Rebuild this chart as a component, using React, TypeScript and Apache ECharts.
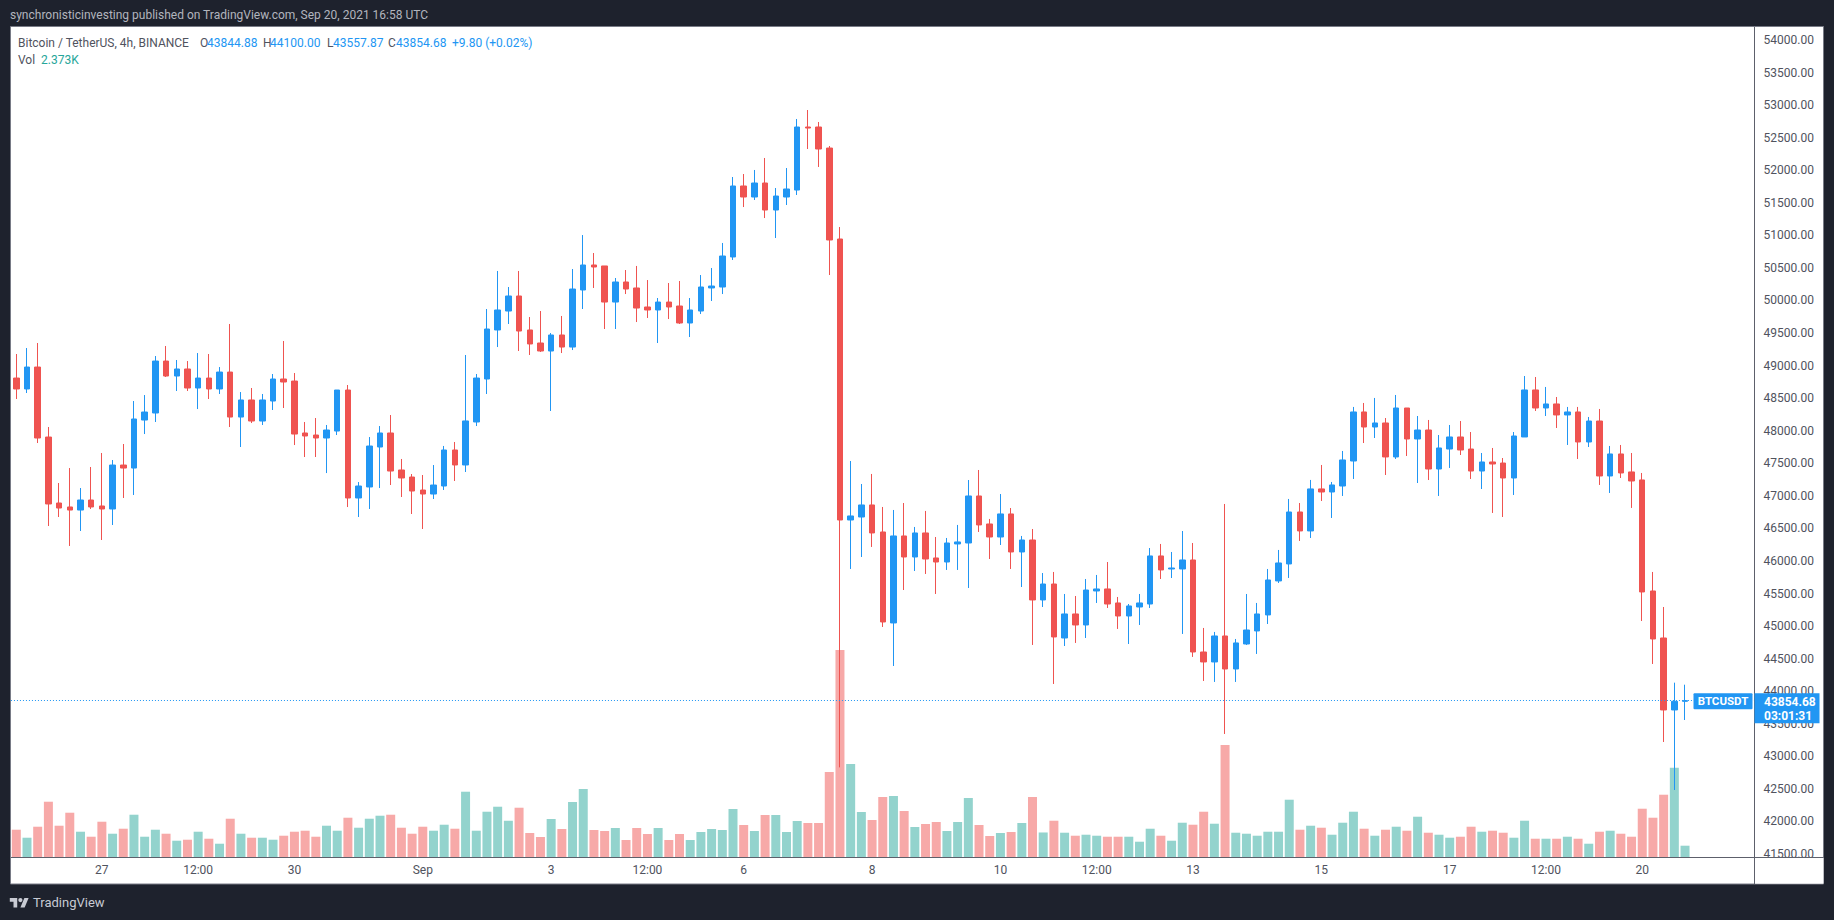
import React, { useEffect, useRef } from "react";
import * as echarts from "echarts";

// ---- Candle data (4h BTCUSDT, Aug 25 16:00 UTC .. Sep 20 16:00 UTC) ----
const opens = [
  48809, 48641, 48978, 47903, 46890, 46829, 46782, 46936, 46844, 46798,
  47473, 47427, 48164, 48272, 49070, 48840, 48948, 48656, 48809, 48641,
  48901, 48210, 48472, 48149, 48456, 48794, 48763, 47965, 47934, 47888,
  47995, 48625, 46967, 47136, 47750, 47965, 47397, 47289, 47089, 47028,
  47151, 47704, 47474, 48134, 48794, 49547, 49838, 50069, 49547, 49347,
  49224, 49470, 49285, 50161, 50545, 50530, 49976, 50284, 50192, 49900,
  49854, 49976, 49915, 49654, 49838, 50192, 50207, 50668, 51758, 51589,
  51804, 51389, 51589, 51696, 52664, 52664, 52341, 50944, 46629, 46675,
  46860, 46445, 45048, 46384, 46061, 46430, 46046, 45984, 46261, 46276,
  46998, 46568, 46368, 46722, 46138, 46322, 45401, 45646, 44817, 45186,
  45017, 45539, 45570, 45355, 45155, 45293, 45339, 46077, 45877, 45877,
  46015, 44602, 44449, 44848, 44341, 44725, 44925, 45171, 45693, 45954,
  46752, 46461, 47106, 47059, 47151, 47535, 48288, 48057, 48119, 47597,
  48349, 47873, 48011, 47412, 47719, 47904, 47719, 47381, 47520, 47504,
  47274, 47904, 48626, 48349, 48411, 48242, 48288, 47827, 48149, 47305,
  47643, 47367, 47244, 45539, 44817, 43712, 43844.88,
];
const closes = [
  48641, 48978, 47888, 46875, 46813, 46782, 46936, 46829, 46798, 47473,
  47427, 48180, 48287, 49070, 48840, 48948, 48656, 48809, 48641, 48901,
  48210, 48472, 48149, 48472, 48794, 48748, 47949, 47919, 47888, 48011,
  48625, 46967, 47151, 47765, 47965, 47381, 47274, 47074, 47028, 47166,
  47704, 47474, 48150, 48809, 49562, 49854, 50069, 49531, 49332, 49224,
  49470, 49285, 50176, 50545, 50514, 49976, 50284, 50176, 49884, 49854,
  49976, 49900, 49654, 49854, 50207, 50222, 50683, 51758, 51589, 51804,
  51389, 51604, 51712, 52664, 52648, 52326, 50929, 46629, 46691, 46860,
  46430, 45063, 46384, 46061, 46430, 46030, 45984, 46276, 46292, 46998,
  46553, 46368, 46722, 46138, 46322, 45401, 45646, 44833, 45186, 45017,
  45554, 45570, 45339, 45155, 45309, 45355, 46077, 45862, 45892, 46015,
  44602, 44449, 44848, 44341, 44741, 44940, 45186, 45708, 45969, 46752,
  46461, 47106, 47059, 47167, 47551, 48288, 48057, 48119, 47597, 48349,
  47873, 48011, 47412, 47735, 47904, 47704, 47381, 47520, 47489, 47274,
  47919, 48626, 48349, 48411, 48242, 48288, 47827, 48149, 47305, 47643,
  47351, 47228, 45524, 44802, 43712, 43844.88, 43854.68,
];
const lows = [
  48487, 48579, 47811, 46537, 46675, 46230, 46460, 46798, 46322, 46552,
  46967, 47013, 47949, 48134, 48825, 48610, 48610, 48333, 48487, 48564,
  48057, 47750, 48118, 48088, 48318, 48349, 47780, 47596, 47596, 47350,
  47934, 46828, 46675, 46798, 47120, 47166, 46982, 46721, 46491, 46951,
  47090, 47228, 47366, 48072, 48564, 49285, 49639, 49224, 49163, 49209,
  48303, 49193, 49239, 49869, 50192, 49562, 49562, 50099, 49669, 49731,
  49347, 49715, 49639, 49439, 49792, 49992, 50099, 50622, 51435, 51543,
  51266, 50959, 51466, 51620, 52326, 52050, 50391, 42830, 45877, 46061,
  46215, 44986, 44387, 45554, 45846, 45800, 45493, 45862, 45862, 45585,
  46445, 46030, 46245, 45877, 45600, 44710, 45293, 44111, 44694, 44741,
  44817, 45355, 45278, 44956, 44725, 45017, 45278, 45723, 45738, 44879,
  44526, 44157, 44142, 43343, 44142, 44710, 44572, 45032, 45662, 45739,
  46307, 46353, 46921, 46660, 46998, 47259, 47811, 47888, 47320, 47566,
  47612, 47197, 47243, 46998, 47428, 47627, 47259, 47105, 46737, 46675,
  47013, 47904, 48303, 48226, 48042, 47781, 47566, 47750, 47167, 47044,
  47274, 46814, 45078, 44418, 43220, 42483, 43557.87,
];
const highs = [
  49178, 49270, 49347, 48057, 47197, 47427, 47120, 47443, 47658, 47550,
  47796, 48456, 48548, 49147, 49301, 49086, 49070, 49193, 49178, 48978,
  49639, 48594, 48656, 48564, 48871, 49378, 48886, 48134, 48195, 48088,
  48625, 48702, 47212, 47903, 48072, 48241, 47566, 47335, 47320, 47473,
  47766, 47827, 49163, 48871, 49869, 50453, 50207, 50453, 49746, 49838,
  49500, 49762, 50483, 51005, 50729, 50530, 50345, 50468, 50530, 50314,
  50038, 50268, 50299, 50038, 50391, 50499, 50883, 51896, 51942, 52004,
  52188, 51727, 52034, 52787, 52925, 52741, 52372, 51128, 47535, 47182,
  47336, 46829, 46783, 46890, 46522, 46768, 46368, 46353, 46553, 47243,
  47397, 46645, 47028, 46813, 46384, 46491, 45815, 45831, 45493, 45462,
  45723, 45785, 45984, 45447, 45339, 45493, 46199, 46261, 46138, 46460,
  46276, 44971, 44910, 46875, 44802, 45493, 45355, 45877, 46169, 46952,
  46890, 47244, 47474, 47213, 47689, 48365, 48426, 48503, 48195, 48549,
  48349, 48226, 48165, 47934, 48088, 48149, 47980, 47658, 47735, 47581,
  47980, 48840, 48825, 48672, 48518, 48365, 48365, 48211, 48334, 47766,
  47781, 47658, 47351, 45831, 45293, 44131, 44100,
];
const volumes = [
  5730, 4050, 6360, 11610, 6570, 9300, 5310, 4260, 7410, 4890,
  5940, 8880, 4260, 5730, 4890, 3420, 3630, 5310, 3840, 2790,
  8040, 4890, 4050, 4050, 3630, 4470, 5310, 5520, 4260, 6570,
  5520, 8250, 6150, 8040, 8670, 8880, 6150, 4890, 6360, 5520,
  6780, 5940, 13710, 5520, 9510, 10560, 7620, 10350, 5040, 4200,
  7980, 5880, 11550, 14280, 5670, 5460, 6090, 3570, 6090, 4830,
  6090, 3570, 4830, 3570, 5250, 5880, 5670, 10080, 6720, 5460,
  8820, 8820, 5250, 7560, 7140, 7140, 17850, 43470, 19530, 9450,
  7770, 12600, 12810, 9660, 6300, 6930, 7350, 5460, 7350, 12390,
  6720, 4410, 5040, 5250, 7140, 12600, 5150, 7620, 5100, 4470,
  4680, 4470, 4260, 4260, 4260, 3210, 5940, 4470, 3420, 7200,
  6780, 9510, 6990, 23520, 5100, 4890, 4470, 5310, 5310, 12030,
  5730, 6570, 6150, 4680, 7200, 9510, 5940, 4470, 5730, 6360,
  5520, 8460, 5100, 4680, 4050, 4260, 6360, 5310, 5520, 5100,
  4050, 7620, 3840, 3840, 3840, 4260, 3840, 2790, 5310, 5520,
  4890, 4260, 10140, 8250, 13080, 18750, 2373,
];

// x-axis tick labels (category index -> text)
const tickIndex = [8, 17, 26, 38, 50, 59, 68, 80, 92, 101, 110, 122, 134, 143, 152];
const tickLabels = ["27", "12:00", "30", "Sep", "3", "12:00", "6", "8", "10", "12:00", "13", "15", "17", "12:00", "20"];

const PRICE_MIN = 41500;
const PRICE_MAX = 54000;
const PRICE_STEP = 500;
const VOL_MAX = 174300;
const COUNTDOWN = "03:01:31";
const SYMBOL = "BTCUSDT";

const START_UTC = Date.UTC(2021, 7, 25, 16, 0, 0);
const STEP_MS = 4 * 3600 * 1000;
const EXTRA_SLOTS = 6;

const FONT = "Roboto, 'Liberation Sans', Arial, sans-serif";
const UP = "#2196f3";
const DOWN = "#ef5350";
const UP_VOL = "#93d3cd";
const DOWN_VOL = "#f7a9a8";
const AXIS_TEXT = "#50535e";
const FRAME_BG = "#1e222d";

const TV_LOGO_PATH =
  "M14 22H7V11H0V4h14v18zM28 22h-8l7.5-18h8L28 22zM24 8a4 4 0 1 1-8 0a4 4 0 1 1 8 0z";
echarts.graphic.registerShape("tvlogo", echarts.graphic.extendPath(TV_LOGO_PATH, {}) as any);

export default function App() {
  const ref = useRef<HTMLDivElement>(null);

  useEffect(() => {
    const el = ref.current!;
    const chart = echarts.init(el, null, { renderer: "svg", width: 1834, height: 920 });

    const n = closes.length;
    const total = n + EXTRA_SLOTS;
    const band = 10.697;
    const gridLeft = 10.95;
    const gridWidth = total * band;

    const categories = Array.from({ length: total }, (_, i) =>
      new Date(START_UTC + i * STEP_MS).toISOString().slice(0, 16)
    );
    const candleData = closes.map((c, i) => [opens[i], c, lows[i], highs[i]]);
    const volData = volumes.map((v, i) => ({
      value: v,
      itemStyle: { color: closes[i] >= opens[i] ? UP_VOL : DOWN_VOL },
    }));

    const last = n - 1;
    const lastClose = closes[last];

    const option: any = {
      animation: false,
      backgroundColor: FRAME_BG,
      grid: [
        { left: gridLeft, top: 40, width: gridWidth, height: 814 },
        { left: gridLeft, top: 27, width: gridWidth, height: 830 },
      ],
      xAxis: [
        {
          type: "category",
          gridIndex: 0,
          data: categories,
          boundaryGap: true,
          axisLine: { show: false },
          axisTick: { show: false },
          axisLabel: { show: false },
          splitLine: { show: false },
        },
        {
          type: "category",
          gridIndex: 1,
          data: categories,
          boundaryGap: true,
          axisLine: { show: false },
          axisTick: { show: false },
          splitLine: { show: false },
          axisLabel: {
            show: true,
            interval: (idx: number) => tickIndex.indexOf(idx) >= 0,
            formatter: (_v: string, idx: number) => {
              const k = tickIndex.indexOf(idx);
              return k >= 0 ? tickLabels[k] : "";
            },
            color: AXIS_TEXT,
            fontSize: 12,
            fontFamily: FONT,
            margin: 7,
          },
        },
      ],
      yAxis: [
        {
          type: "value",
          gridIndex: 0,
          position: "right",
          min: PRICE_MIN,
          max: PRICE_MAX,
          interval: PRICE_STEP,
          axisLine: { show: false },
          axisTick: { show: false },
          splitLine: { show: false },
          axisLabel: {
            formatter: (v: number) => v.toFixed(2),
            color: AXIS_TEXT,
            fontSize: 12,
            fontFamily: FONT,
            margin: 9,
          },
        },
        { type: "value", gridIndex: 1, min: 0, max: VOL_MAX, show: false },
      ],
      series: [
        {
          type: "bar",
          xAxisIndex: 1,
          yAxisIndex: 1,
          data: volData,
          barWidth: 9,
          z: 1,
          silent: true,
        },
        {
          type: "candlestick",
          xAxisIndex: 0,
          yAxisIndex: 0,
          data: candleData,
          barWidth: 6,
          z: 3,
          silent: true,
          itemStyle: {
            color: UP,
            color0: DOWN,
            borderColor: UP,
            borderColor0: DOWN,
            borderWidth: 1,
          },
          markLine: {
            silent: true,
            symbol: ["none", "none"],
            label: { show: false },
            lineStyle: { color: UP, type: [1, 2], width: 1 },
            data: [{ yAxis: lastClose }],
          },
        },
      ],
    };

    chart.setOption(option);
    const py = chart.convertToPixel({ yAxisIndex: 0 }, lastClose) as number;

    const chg = closes[last] - closes[last - 1];
    const pct = (chg / closes[last - 1]) * 100;
    const sign = chg >= 0 ? "+" : "";
    const txt = (x: number, y: number, text: string, fill: string, extra: any = {}) => ({
      type: "text",
      x,
      y,
      z: 30,
      silent: true,
      style: {
        text,
        fill,
        fontSize: 12,
        fontFamily: FONT,
        align: "left",
        verticalAlign: "middle",
        ...extra,
      },
    });

    const graphics: any[] = [
      {
        type: "rect",
        z: -10,
        silent: true,
        shape: { x: 10.5, y: 26.5, width: 1813, height: 857.5 },
        style: { fill: "#ffffff", stroke: "#787b86", lineWidth: 1 },
      },
      {
        type: "rect",
        z: 4,
        silent: true,
        shape: { x: 1755, y: 858, width: 68.5, height: 25.5 },
        style: { fill: "#ffffff" },
      },
      {
        type: "line",
        z: 5,
        silent: true,
        shape: { x1: 1754.5, y1: 27, x2: 1754.5, y2: 884 },
        style: { stroke: "#5d606b", lineWidth: 1 },
      },
      {
        type: "line",
        z: 5,
        silent: true,
        shape: { x1: 11, y1: 857.5, x2: 1823.5, y2: 857.5 },
        style: { stroke: "#5d606b", lineWidth: 1 },
      },
      txt(10, 15, "synchronisticinvesting published on TradingView.com, Sep 20, 2021 16:58 UTC", "#b2b5be", { fontSize: 12 }),
      txt(18, 43, "Bitcoin / TetherUS, 4h, BINANCE", AXIS_TEXT),
      txt(200, 43, "O", AXIS_TEXT),
      txt(207, 43, opens[last].toFixed(2), UP),
      txt(263, 43, "H", AXIS_TEXT),
      txt(270, 43, highs[last].toFixed(2), UP),
      txt(327, 43, "L", AXIS_TEXT),
      txt(333, 43, lows[last].toFixed(2), UP),
      txt(388, 43, "C", AXIS_TEXT),
      txt(396, 43, closes[last].toFixed(2), UP),
      txt(452, 43, `${sign}${chg.toFixed(2)} (${sign}${pct.toFixed(2)}%)`, UP),
      txt(18, 60, "Vol", AXIS_TEXT),
      txt(41, 60, (volumes[last] / 1000).toFixed(3) + "K", "#26a69a"),
      {
        type: "rect",
        z: 20,
        silent: true,
        shape: { x: 1693.5, y: py - 7.5, width: 59, height: 16, r: 1 },
        style: { fill: UP },
      },
      txt(1723, py + 0.5, SYMBOL, "#ffffff", { align: "center", fontWeight: "bold", fontSize: 11.5 }),
      {
        type: "rect",
        z: 20,
        silent: true,
        shape: { x: 1754.5, y: py - 7.5, width: 65, height: 30 },
        style: { fill: UP },
      },
      txt(1764, py + 1, closes[last].toFixed(2), "#ffffff", { fontWeight: "bold" }),
      txt(1764, py + 15, COUNTDOWN, "#ffffff", { fontWeight: "bold" }),
      {
        type: "tvlogo",
        x: 9.8,
        y: 895.8,
        scaleX: 0.53,
        scaleY: 0.53,
        z: 30,
        silent: true,
        style: { fill: "#c8cbd3" },
      },
      txt(33, 902, "TradingView", "#c8cbd3", { fontSize: 13 }),
    ];

    chart.setOption({ graphic: graphics });

    return () => {
      chart.dispose();
    };
  }, []);

  return (
    <div
      ref={ref}
      style={{ position: "fixed", left: 0, top: 0, width: 1834, height: 920 }}
    />
  );
}
